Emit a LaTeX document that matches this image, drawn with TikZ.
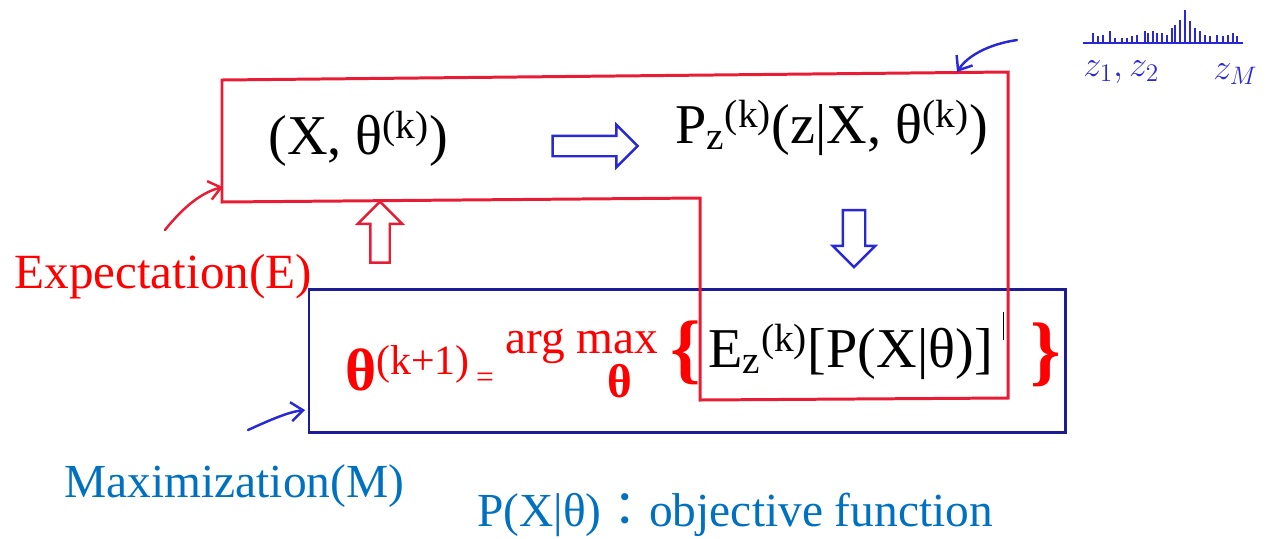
\documentclass[tikz,border=0pt]{standalone}
\usepackage{fontspec}
\setmainfont{Liberation Serif}
\newfontfamily\cjk{Noto Sans CJK JP}
\usetikzlibrary{arrows.meta,positioning,shapes.arrows}
\definecolor{LoopRed}{RGB}{232,28,52}
\definecolor{LoopNavy}{RGB}{28,28,150}
\definecolor{PenBlue}{RGB}{40,40,215}
\definecolor{LabelBlue}{RGB}{0,112,192}
\definecolor{MathRed}{RGB}{255,0,0}

\tikzset{
    eline/.style={LoopRed, line width=1.7pt},
    mline/.style={LoopNavy, line width=1.7pt},
    hand/.style={PenBlue, line width=1.4pt, line cap=round,
        -{Straight Barb[length=2.4mm,width=3.8mm]}},
    hollow/.style={single arrow, draw, line width=1.4pt},
    formula/.style={inner sep=0, anchor=base west, font=\fontsize{32}{38}\selectfont},
    steplabel/.style={inner sep=0, anchor=base west, font=\fontsize{28}{32}\selectfont}
}

\begin{document}
\begin{tikzpicture}[x=0.02cm, y=-0.02cm]
    % picture in pixel units, origin top left
    \useasboundingbox (0,0) rectangle (1280,538);

    % M step frame (blue), drawn first so the E loop lies on top
    \draw[mline] (309,289) rectangle (1065,432);

    % E step loop (red): top row, then down round the expectation
    \draw[eline] (222,80) -- (1008,72) -- (1008,398) -- (700,400)
        -- (700,198) -- (222,202) -- cycle;

    % Top row
    \node[formula] (xtheta) at (268,154) {(X, θ\textsuperscript{(k)})};
    \node[formula] (pz) at (675,143)
        {P\textsubscript{z}\textsuperscript{(k)}(z|X, θ\textsuperscript{(k)})};

    % Hollow arrows between the steps
    \node[hollow, PenBlue, minimum height=1.7cm, inner sep=0.18cm,
        single arrow head extend=0.22cm] (toPz) at (590,146) {};
    \node[hollow, PenBlue, minimum height=1.14cm, inner sep=0.2cm,
        single arrow head extend=0.2cm, rotate=-90] (toEz) at (854,233) {};
    \node[hollow, LoopRed, minimum height=1.22cm, inner sep=0.17cm,
        single arrow head extend=0.25cm, rotate=90] (toX) at (380,237) {};

    % Bottom row: the maximization
    \node[formula, MathRed, font=\fontsize{34}{40}\selectfont] (thetanew) at (345,390)
        {\textbf{θ}\textsuperscript{(k+1)}};
    \node[MathRed, inner sep=0, font=\fontsize{18}{18}\selectfont] (eqsign) at (485,380) {=};
    \node[MathRed, inner sep=0, anchor=base, font=\fontsize{27}{30}\selectfont] (argmax)
        at (582,353) {arg max};
    \node[MathRed, inner sep=0, anchor=base, font=\fontsize{27}{30}\selectfont] (argvar)
        at (620,397) {\textbf{θ}};
    \node[MathRed, inner sep=0, font=\fontsize{44}{48}\selectfont] (lbrace)
        at (686,353) {\textbf{\{}};
    \node[formula] (ez) at (708,367) {E\textsubscript{z}\textsuperscript{(k)}[P(X|θ)]};
    \node[MathRed, inner sep=0, font=\fontsize{44}{48}\selectfont] (rbrace)
        at (1046,355) {\textbf{\}}};
    \draw[black, thin] (1003,312) -- (1003,340);

    % Step names and note
    \node[steplabel, MathRed] (estep) at (14,288) {Expectation(E)};
    \node[steplabel, LabelBlue, font=\fontsize{27}{32}\selectfont] (mstep) at (64,497)
        {Maximization(M)};
    \node[steplabel, LabelBlue, font=\fontsize{27}{32}\selectfont] (objfn) at (477,526)
        {P(X|θ){\cjk ：}objective function};

    % Pen arrows into the frames
    \coordinate (eFrom) at (165,230);
    \coordinate (eIn) at (223,187);
    \draw[hand, LoopRed] (eFrom) .. controls (185,205) and (203,192) .. (eIn);
    \coordinate (mFrom) at (248,430);
    \coordinate (mIn) at (305,410);
    \draw[hand] (mFrom) .. controls (270,420) and (288,412) .. (mIn);
    \coordinate (topFrom) at (1017,40);
    \coordinate (topIn) at (957,72);
    \draw[hand] (topFrom) .. controls (990,44) and (968,55) .. (topIn);

    % Pen sketch of the latent values (top right)
    \draw[PenBlue, line width=1.4pt] (1083,43) -- (1243,43);
    \foreach \x/\h in {1093/10,1098/7,1103/8,1110/12,1115/5,1122/5,1127/5,1132/7,
        1137/8,1145/12,1148/10,1153/12,1157/10,1162/10,1167/8,1172/15,1175/18,
        1180/23,1185/33,1190/22,1195/15,1200/12,1205/8,1210/7,1217/8,1223/7,
        1228/8,1233/10,1237/7} {
        \draw[PenBlue, line width=1.3pt] (\x,43) -- ++(0,-\h);
    }
    \node[PenBlue, inner sep=0, anchor=base west, font=\fontsize{21}{24}\selectfont]
        (zfirst) at (1083,76) {$z_1,z_2$};
    \node[PenBlue, inner sep=0, anchor=base west, font=\fontsize{21}{24}\selectfont]
        (zlast) at (1213,79) {$z_M$};
\end{tikzpicture}
\end{document}
